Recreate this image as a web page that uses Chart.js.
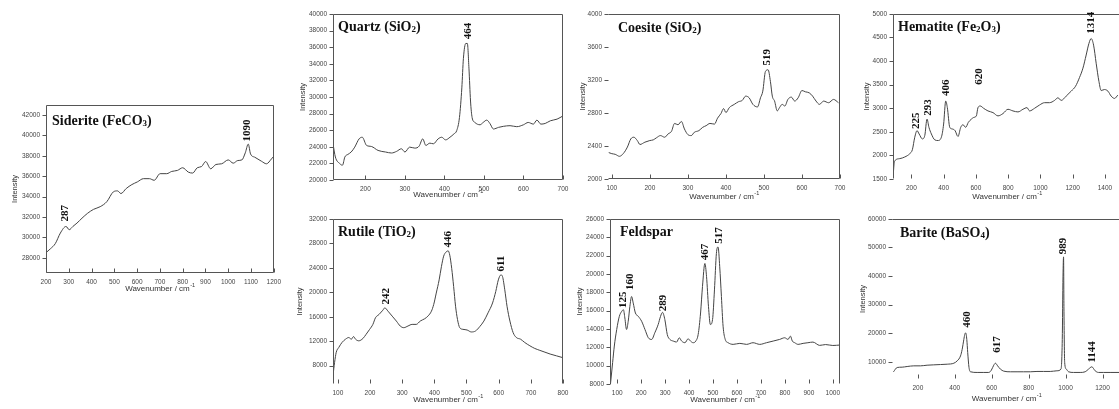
<!DOCTYPE html>
<html lang="en">
<head>
<meta charset="UTF-8">
<title>Raman spectra of minerals</title>
<script src="https://cdn.jsdelivr.net/npm/chart.js"></script>
<style>
  html, body { margin: 0; padding: 0; background: #fff; overflow: hidden; width: 1119px; height: 409px; position: relative; }
  canvas { position: absolute; }
</style>
</head>
<body>
<script>
// ---- spectra: [wavenumber, intensity] ----
const siderite = [[200,28490],[219,28870],[241,29390],[263,30420],[288,31070],[302,30750],[318,31070],[336,31400],[358,31880],[383,32370],[409,32750],[438,33010],[467,33500],[496,34470],[514,34560],[529,34300],[552,34790],[577,35180],[601,35440],[628,35760],[654,35760],[675,35600],[701,36250],[730,36250],[752,36470],[777,36570],[800,36830],[825,36400],[844,36310],[864,36830],[883,36950],[901,37440],[923,36730],[946,37150],[971,37220],[1000,37600],[1022,37280],[1042,37540],[1060,37600],[1075,38300],[1088,39150],[1098,38190],[1117,37860],[1146,37470],[1168,37220],[1190,37700],[1200,37960]];
const quartz = [[118,24360],[124,22770],[135,21980],[142,21780],[148,22770],[156,23090],[164,23370],[173,23960],[184,24950],[192,25150],[203,24160],[215,24040],[232,23560],[251,23370],[266,23250],[279,23450],[291,23760],[300,23370],[312,23960],[325,23840],[336,24080],[345,24950],[353,24160],[363,24440],[372,24360],[384,24950],[393,25150],[403,24830],[414,25150],[424,25550],[431,25940],[438,27530],[444,31090],[448,34650],[454,36440],[458,36440],[462,33470],[466,29510],[470,27530],[477,26930],[490,26650],[498,26930],[507,27210],[515,26810],[524,26140],[537,26340],[549,26460],[566,26540],[583,26420],[600,26650],[612,26930],[625,26730],[634,27210],[644,26730],[655,26810],[668,27130],[685,27330],[700,27720]];
const coesite = [[92,2320],[100,2307],[109,2299],[120,2275],[130,2307],[141,2387],[150,2486],[158,2506],[167,2466],[174,2418],[187,2446],[200,2466],[209,2474],[217,2498],[228,2526],[239,2506],[248,2546],[257,2578],[265,2673],[274,2657],[283,2697],[291,2606],[300,2538],[309,2526],[317,2566],[329,2586],[339,2626],[348,2646],[358,2673],[370,2665],[378,2737],[387,2793],[394,2853],[400,2805],[409,2865],[422,2904],[433,2936],[443,2952],[452,3004],[461,2984],[471,2904],[483,2873],[491,2984],[497,3064],[504,3303],[511,3323],[517,3183],[522,3004],[528,2944],[535,2825],[541,2865],[548,2904],[555,2884],[563,2964],[572,2992],[581,2944],[590,2984],[600,3072],[609,3056],[619,3044],[628,3004],[637,2944],[646,2904],[657,2944],[670,2924],[683,2964],[696,2924]];
const hematite = [[87,1550],[92,1800],[100,1897],[128,1932],[159,1967],[190,2037],[206,2120],[221,2386],[235,2525],[248,2455],[268,2350],[283,2420],[297,2769],[309,2595],[324,2455],[345,2330],[365,2316],[386,2386],[400,2665],[413,3152],[423,3013],[438,2595],[454,2560],[471,2525],[489,2400],[506,2595],[520,2650],[537,2595],[553,2700],[572,2769],[586,2804],[603,2838],[613,3013],[627,3048],[648,2999],[675,2943],[706,2908],[737,2838],[768,2887],[799,2978],[830,2943],[861,2922],[892,2978],[917,3013],[933,2943],[964,2999],[995,3069],[1026,3118],[1057,3118],[1088,3166],[1109,3222],[1129,3166],[1160,3257],[1191,3362],[1218,3466],[1243,3654],[1264,3850],[1284,4128],[1301,4373],[1315,4477],[1330,4338],[1346,3954],[1363,3571],[1377,3376],[1398,3397],[1419,3362],[1439,3257],[1460,3208],[1480,3278]];
const rutile = [[85,6400],[90,8550],[95,10170],[103,10980],[113,11790],[124,12330],[134,12600],[142,12330],[149,12760],[155,12330],[165,12060],[178,12440],[188,13130],[199,13940],[209,14750],[217,15830],[228,16370],[240,17070],[246,17450],[256,16910],[269,16100],[282,15290],[294,14480],[305,14210],[318,14480],[331,14750],[344,14750],[356,15290],[370,15670],[380,16100],[391,16910],[398,17990],[406,19870],[415,22030],[422,24180],[429,25910],[437,26610],[443,26770],[448,26070],[454,23920],[460,20950],[466,17720],[472,15560],[479,14210],[489,13940],[502,13830],[515,13510],[528,13670],[541,14370],[554,15290],[567,16640],[581,18250],[591,20140],[599,22030],[607,22840],[612,22570],[619,20410],[626,17720],[635,15290],[645,13400],[655,12600],[668,12330],[681,11790],[697,11250],[712,10820],[728,10500],[744,10200],[760,9900],[780,9600],[800,9300]];
const feldspar = [[72,8000],[81,10340],[88,12140],[98,13940],[109,15380],[119,15920],[126,16100],[132,15200],[139,13940],[146,14840],[153,16460],[160,17540],[167,16820],[176,15740],[188,15380],[202,14840],[216,13940],[230,13040],[244,12860],[257,13580],[271,14480],[281,15380],[289,15810],[299,15020],[309,13400],[320,12860],[334,12680],[348,12570],[359,13040],[369,12680],[383,12500],[396,12930],[406,12680],[417,12500],[428,12680],[438,13400],[448,15740],[456,18620],[466,21140],[473,19700],[481,16460],[489,14480],[498,15020],[506,18260],[514,22220],[521,22940],[528,20780],[535,17540],[542,14300],[551,12860],[563,12500],[584,12320],[612,12430],[640,12320],[667,12500],[695,12320],[723,12500],[751,12680],[778,12860],[799,13040],[813,12860],[823,13220],[831,12680],[841,12500],[855,12320],[876,12430],[896,12500],[917,12570],[945,12210],[970,12300],[1000,12200],[1030,12250]];
const barite = [[68,6500],[88,8020],[115,8140],[142,8370],[178,8600],[214,8600],[250,8830],[286,8950],[323,9060],[359,9180],[395,9530],[413,10340],[431,12070],[440,14380],[449,17840],[454,19580],[459,20150],[465,17840],[470,13220],[477,8020],[485,6520],[521,6290],[557,6290],[584,6290],[598,7100],[611,8830],[620,9530],[632,8600],[647,7450],[665,6750],[701,6520],[737,6520],[773,6520],[809,6520],[845,6640],[881,6640],[917,6640],[953,6870],[975,7450],[982,17840],[986,40000],[989,46720],[991,29400],[995,9760],[1004,7450],[1016,6520],[1043,6290],[1079,6290],[1106,6520],[1124,7450],[1142,8260],[1160,6870],[1178,6290],[1205,6290],[1241,6290],[1290,6290]];

// ---- peak labels: [wavenumber, intensity at label foot, text] ----
const sideritePeaks = [[283,31560,'287'],[1085,39410,'1090']];
const quartzPeaks = [[459,36950,'464']];
const coesitePeaks = [[508,3375,'519']];
const hematitePeaks = [[227,2560,'225'],[303,2840,'293'],[413,3260,'406'],[623,3500,'620'],[1315,4580,'1314']];
const rutilePeaks = [[250,17990,'242'],[443,27310,'446'],[609,23380,'611']];
const feldsparPeaks = [[124,16280,'125'],[156,18260,'160'],[292,15920,'289'],[469,21500,'467'],[524,23300,'517']];
const baritePeaks = [[467,21890,'460'],[629,13220,'617'],[989,47640,'989'],[1142,9760,'1144']];

// ---- tick labels ----
const sideriteXTicks = [200,300,400,500,600,700,800,900,1000,1100,1200];
const sideriteYTicks = [28000,30000,32000,34000,36000,38000,40000,42000];
const quartzXTicks = [200,300,400,500,600,700];
const quartzYTicks = [20000,22000,24000,26000,28000,30000,32000,34000,36000,38000,40000];
const coesiteXTicks = [100,200,300,400,500,600,700];
const coesiteYTicks = [2000,2400,2800,3200,3600,4000];
const hematiteXTicks = [200,400,600,800,1000,1200,1400];
const hematiteYTicks = [1500,2000,2500,3000,3500,4000,4500,5000];
const rutileXTicks = [100,200,300,400,500,600,700,800];
const rutileYTicks = [8000,12000,16000,20000,24000,28000,32000];
const feldsparXTicks = [100,200,300,400,500,600,700,800,900,1000];
const feldsparYTicks = [8000,10000,12000,14000,16000,18000,20000,22000,24000,26000];
const bariteXTicks = [200,400,600,800,1000,1200];
const bariteYTicks = [10000,20000,30000,40000,50000,60000];

const PAD_L = 45, PAD_T = 8, PAD_R = 12, PAD_B = 30;

// layout of each small panel (plot box in page pixels) and its axis ranges
const panels = [
  { title: 'Siderite (FeCO3)', data: siderite, peaks: sideritePeaks, xTicks: sideriteXTicks, yTicks: sideriteYTicks,
    x: [200, 1200], y: [26500, 43000], box: [46, 103, 274, 273], sides: 'LTRB', tdx: 6, tdy: 20, yGap: 31, xGap: 16 },
  { title: 'Quartz (SiO2)', data: quartz, peaks: quartzPeaks, xTicks: quartzXTicks, yTicks: quartzYTicks,
    x: [118, 700], y: [20000, 40000], box: [333, 12, 563, 180], sides: 'LTRB', tdx: 5, tdy: 17, yGap: 30, xGap: 15 },
  { title: 'Coesite (SiO2)', data: coesite, peaks: coesitePeaks, xTicks: coesiteXTicks, yTicks: coesiteYTicks,
    x: [90, 700], y: [2000, 4000], box: [608, 12, 840, 179], sides: 'TRB', tdx: 10, tdy: 18, yGap: 25, xGap: 18 },
  { title: 'Hematite (Fe2O3)', data: hematite, peaks: hematitePeaks, xTicks: hematiteXTicks, yTicks: hematiteYTicks,
    x: [86, 1500], y: [1500, 5000], box: [893, 12, 1121, 179], sides: 'LT', tdx: 5, tdy: 17, yGap: 26, xGap: 18 },
  { title: 'Rutile (TiO2)', data: rutile, peaks: rutilePeaks, xTicks: rutileXTicks, yTicks: rutileYTicks,
    x: [85, 800], y: [5000, 32000], box: [333, 217, 563, 384], sides: 'LTR', tdx: 5, tdy: 17, yGap: 33, xGap: 16 },
  { title: 'Feldspar', data: feldspar, peaks: feldsparPeaks, xTicks: feldsparXTicks, yTicks: feldsparYTicks,
    x: [70, 1030], y: [8000, 26000], box: [610, 217, 840, 384], sides: 'LTR', tdx: 10, tdy: 17, yGap: 30, xGap: 16 },
  { title: 'Barite (BaSO4)', data: barite, peaks: baritePeaks, xTicks: bariteXTicks, yTicks: bariteYTicks,
    x: [60, 1300], y: [4000, 60000], box: [892, 217, 1121, 378.5], sides: 'T', tdx: 8, tdy: 18, yGap: 29, xGap: 20 }
];

// frame, tick marks, titles and peak numbers for one panel
function panelDecor(p) {
  return {
    id: 'panelDecor',
    afterDatasetsDraw(chart) {
      const { ctx, chartArea: a, scales } = chart;
      const sx = scales.x, sy = scales.y;
      const l = Math.round(a.left) + 0.5, r = Math.round(a.right) - 0.5;
      const t = Math.round(a.top) + 0.5, b = Math.round(a.bottom) - 0.5;
      ctx.save();
      ctx.strokeStyle = '#555';
      ctx.lineWidth = 1;
      ctx.beginPath();
      if (p.sides.includes('L')) { ctx.moveTo(l, t); ctx.lineTo(l, b); }
      if (p.sides.includes('T')) { ctx.moveTo(l, t); ctx.lineTo(r, t); }
      if (p.sides.includes('R')) { ctx.moveTo(r, t); ctx.lineTo(r, b); }
      if (p.sides.includes('B')) { ctx.moveTo(l, b); ctx.lineTo(r, b); }
      p.xTicks.forEach(v => {
        const px = Math.round(sx.getPixelForValue(v)) + 0.5;
        ctx.moveTo(px, b); ctx.lineTo(px, b - 4);
      });
      p.yTicks.forEach(v => {
        const py = Math.round(sy.getPixelForValue(v)) + 0.5;
        ctx.moveTo(l - 4, py); ctx.lineTo(l, py);
      });
      ctx.stroke();

      // axis titles
      ctx.fillStyle = '#333';
      ctx.font = '8px "Liberation Sans", Arial, sans-serif';
      const main = 'Wavenumber / cm';
      const wMain = ctx.measureText(main).width;
      ctx.font = '5.5px "Liberation Sans", Arial, sans-serif';
      const wSup = ctx.measureText('-1').width;
      const cx = (a.left + a.right) / 2 - (wMain + wSup) / 2;
      const ty = a.bottom + p.xGap;
      ctx.textBaseline = 'middle';
      ctx.textAlign = 'left';
      ctx.font = '8px "Liberation Sans", Arial, sans-serif';
      ctx.fillText(main, cx, ty);
      ctx.font = '5.5px "Liberation Sans", Arial, sans-serif';
      ctx.fillText('-1', cx + wMain + 0.5, ty - 3.5);

      ctx.save();
      ctx.translate(a.left - p.yGap, (a.top + a.bottom) / 2);
      ctx.rotate(-Math.PI / 2);
      ctx.textAlign = 'center';
      ctx.font = '7.5px "Liberation Sans", Arial, sans-serif';
      ctx.fillText('Intensity', 0, 0);
      ctx.restore();

      // mineral name, digits as subscripts
      ctx.fillStyle = '#111';
      ctx.textBaseline = 'alphabetic';
      ctx.textAlign = 'left';
      let tx = a.left + p.tdx;
      const tyy = a.top + p.tdy;
      p.title.split(/(\d)/).forEach(part => {
        if (!part) return;
        const sub = /\d/.test(part);
        ctx.font = (sub ? 'bold 9px' : 'bold 14px') + ' "Liberation Serif", "Times New Roman", serif';
        ctx.fillText(part, tx, tyy + (sub ? 1.5 : 0));
        tx += ctx.measureText(part).width;
      });

      // peak positions, written upwards
      ctx.font = 'bold 11px "Liberation Serif", "Times New Roman", serif';
      ctx.textBaseline = 'middle';
      p.peaks.forEach(([wn, val, txt]) => {
        ctx.save();
        ctx.translate(sx.getPixelForValue(wn), sy.getPixelForValue(val));
        ctx.rotate(-Math.PI / 2);
        ctx.fillText(txt, 0, 0);
        ctx.restore();
      });
      ctx.restore();
    }
  };
}

const tickFont = { family: '"Liberation Sans", Arial, sans-serif', size: 6.5 };

panels.forEach(p => {
  const [L, T, R, B] = p.box;
  const w = Math.round(R - L + PAD_L + PAD_R);
  const h = Math.round(B - T + PAD_T + PAD_B);
  const c = document.createElement('canvas');
  c.width = w; c.height = h;
  c.style.left = (L - PAD_L) + 'px';
  c.style.top = (T - PAD_T) + 'px';
  c.style.width = w + 'px';
  c.style.height = h + 'px';
  document.body.appendChild(c);

  new Chart(c, {
    type: 'line',
    data: {
      datasets: [{
        data: p.data.map(([x, y]) => ({ x, y })),
        borderColor: '#444',
        borderWidth: 1,
        pointRadius: 0,
        fill: false,
        cubicInterpolationMode: 'monotone'
      }]
    },
    options: {
      responsive: false,
      animation: false,
      events: [],
      layout: { padding: { top: PAD_T, right: PAD_R, left: 0, bottom: 0 } },
      plugins: { legend: { display: false }, tooltip: { enabled: false } },
      scales: {
        x: {
          type: 'linear', min: p.x[0], max: p.x[1],
          afterFit: s => { s.height = PAD_B; },
          afterBuildTicks: s => { s.ticks = p.xTicks.map(v => ({ value: v })); },
          grid: { display: false, drawTicks: false },
          border: { display: false },
          ticks: { font: tickFont, color: '#444', padding: 5, maxRotation: 0, autoSkip: false, callback: v => String(v) }
        },
        y: {
          type: 'linear', min: p.y[0], max: p.y[1],
          afterFit: s => { s.width = PAD_L; },
          afterBuildTicks: s => { s.ticks = p.yTicks.map(v => ({ value: v })); },
          grid: { display: false, drawTicks: false },
          border: { display: false },
          ticks: { font: tickFont, color: '#444', padding: 6, autoSkip: false, callback: v => String(v) }
        }
      }
    },
    plugins: [panelDecor(p)]
  });
});
</script>
</body>
</html>
